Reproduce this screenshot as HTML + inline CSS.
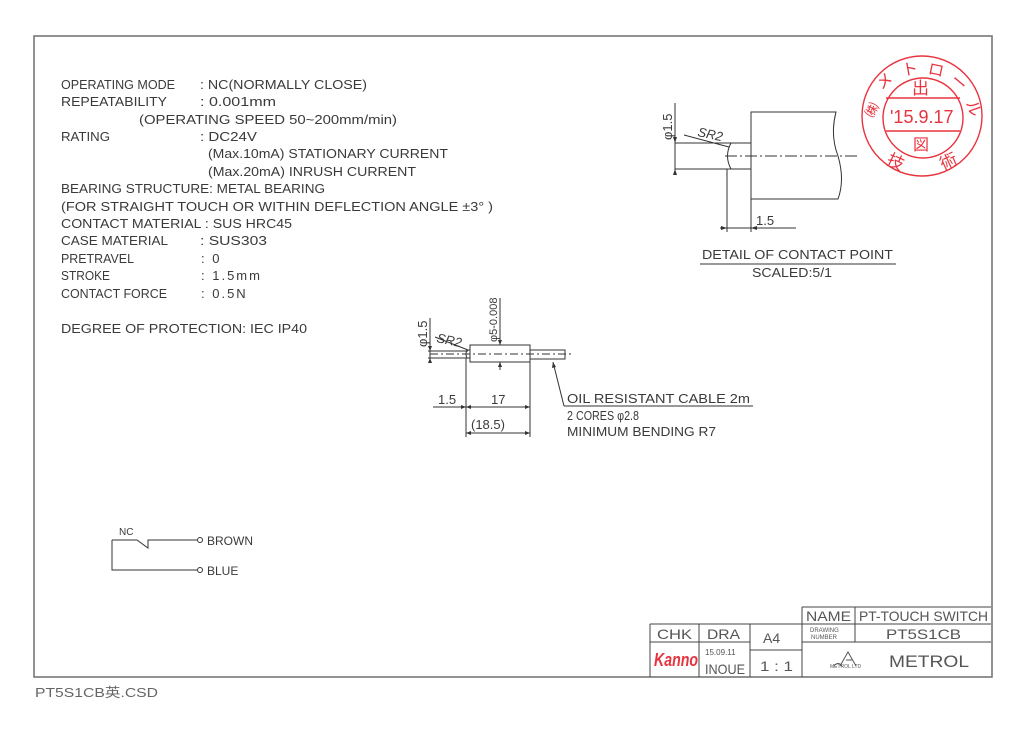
<!DOCTYPE html>
<html><head><meta charset="utf-8"><style>
html,body{margin:0;padding:0;background:#fff;}
svg{display:block;}
text{font-family:"Liberation Sans","Noto Sans CJK JP",sans-serif;fill:#3a3a3a;}
.r text{fill:#e8333f;}
</style></head><body>
<svg width="1024" height="730" viewBox="0 0 1024 730" xmlns="http://www.w3.org/2000/svg">
<rect x="34" y="36" width="958" height="641" fill="none" stroke="#777" stroke-width="1.6"/>

<g font-size="12.5">
<text x="61" y="89" textLength="114" lengthAdjust="spacingAndGlyphs">OPERATING MODE</text>
<text x="200" y="89" textLength="167" lengthAdjust="spacingAndGlyphs">: NC(NORMALLY CLOSE)</text>
<text x="61" y="106" textLength="106" lengthAdjust="spacingAndGlyphs">REPEATABILITY</text>
<text x="200" y="106" textLength="76" lengthAdjust="spacingAndGlyphs">: 0.001mm</text>
<text x="139" y="124" textLength="258" lengthAdjust="spacingAndGlyphs">(OPERATING SPEED  50~200mm/min)</text>
<text x="61" y="141" textLength="49" lengthAdjust="spacingAndGlyphs">RATING</text>
<text x="200" y="141" textLength="57" lengthAdjust="spacingAndGlyphs">: DC24V</text>
<text x="208" y="158" textLength="240" lengthAdjust="spacingAndGlyphs">(Max.10mA) STATIONARY CURRENT</text>
<text x="208" y="176" textLength="208" lengthAdjust="spacingAndGlyphs">(Max.20mA) INRUSH CURRENT</text>
<text x="61" y="193" textLength="264" lengthAdjust="spacingAndGlyphs">BEARING STRUCTURE: METAL BEARING</text>
<text x="61" y="211" textLength="432" lengthAdjust="spacingAndGlyphs"> (FOR STRAIGHT TOUCH OR WITHIN DEFLECTION ANGLE ±3° )</text>
<text x="61" y="228" textLength="231" lengthAdjust="spacingAndGlyphs">CONTACT MATERIAL : SUS HRC45</text>
<text x="61" y="245" textLength="107" lengthAdjust="spacingAndGlyphs">CASE MATERIAL</text>
<text x="200" y="245" textLength="67" lengthAdjust="spacingAndGlyphs">: SUS303</text>
<text x="61" y="263" textLength="73" lengthAdjust="spacingAndGlyphs">PRETRAVEL</text>
<text x="201" y="263" font-size="13" letter-spacing="2">: 0</text>
<text x="61" y="280" textLength="49" lengthAdjust="spacingAndGlyphs">STROKE</text>
<text x="201" y="280" font-size="13" letter-spacing="2">: 1.5mm</text>
<text x="61" y="298" textLength="106" lengthAdjust="spacingAndGlyphs">CONTACT FORCE</text>
<text x="201" y="298" font-size="13" letter-spacing="2">: 0.5N</text>
<text x="61" y="333" textLength="246" lengthAdjust="spacingAndGlyphs">DEGREE OF PROTECTION: IEC IP40</text>
</g>

<g stroke="#333" stroke-width="1" fill="none">
<path d="M751 112 H836 Q830 135 838 156 Q845 180 838 199 H751 Z"/>
<path d="M751 143 H731 Q724 156 731 169 H751"/>
<line x1="725" y1="156" x2="858" y2="156" stroke-dasharray="12,3,2,3"/>
<line x1="675" y1="143" x2="731" y2="143"/>
<line x1="675" y1="169" x2="731" y2="169"/>
<line x1="675" y1="103" x2="675" y2="172"/>
<line x1="684" y1="135" x2="729" y2="147"/>
<line x1="727" y1="169" x2="727" y2="232"/>
<line x1="751" y1="199" x2="751" y2="232"/>
<line x1="720" y1="228" x2="796" y2="228"/>
<line x1="700" y1="264" x2="896" y2="264"/>
</g>
<g fill="#333"><path d="M675 143 l-2 -6 h4z M675 169 l-2 6 h4z M727 228 l-6 -2 v4z M751 228 l6 -2 v4z"/></g>
<text x="672" y="140" font-size="13" transform="rotate(-90 672 140)">φ1.5</text>
<text x="697" y="136" font-size="13" font-style="italic" transform="rotate(12 697 136)">SR2</text>
<text x="756" y="225" font-size="13">1.5</text>
<text x="702" y="259" font-size="13" textLength="191" lengthAdjust="spacingAndGlyphs">DETAIL OF CONTACT POINT</text>
<text x="752" y="277" font-size="13" textLength="80" lengthAdjust="spacingAndGlyphs">SCALED:5/1</text>

<g stroke="#333" stroke-width="1" fill="none">
<rect x="470" y="345" width="60" height="17"/>
<rect x="530" y="350" width="35" height="9"/>
<path d="M470 350 H467 Q465 354 467 358 H470"/>
<line x1="430" y1="354" x2="572" y2="354" stroke-dasharray="8,3,2,3"/>
<line x1="428" y1="351" x2="468" y2="351"/>
<line x1="428" y1="358" x2="468" y2="358"/>
<line x1="430" y1="318" x2="430" y2="362"/>
<line x1="500" y1="298" x2="500" y2="345"/>
<line x1="500" y1="362" x2="500" y2="370"/>
<line x1="435" y1="337" x2="468" y2="350"/>
<line x1="466" y1="358" x2="466" y2="437"/>
<line x1="530" y1="362" x2="530" y2="437"/>
<line x1="433" y1="407" x2="530" y2="407"/>
<line x1="466" y1="433" x2="530" y2="433"/>
<line x1="553" y1="362" x2="564" y2="406"/>
<line x1="564" y1="406" x2="753" y2="406"/>
</g>
<g fill="#333"><path d="M430 351 l-2 -5 h4z M430 358 l-2 5 h4z M500 345 l-2 -5 h4z M500 362 l-2 5 h4z M466 407 l-5 -2 v4z M466 407 l5 -2 v4z M530 407 l-5 -2 v4z M466 433 l5 -2 v4z M530 433 l-5 -2 v4z M553 362 l-1 6 l4 -1z"/></g>
<text x="427" y="347" font-size="13" transform="rotate(-90 427 347)">φ1.5</text>
<text x="497" y="342" font-size="11" transform="rotate(-90 497 342)">φ5-0.008</text>
<text x="436" y="342" font-size="13" font-style="italic" transform="rotate(12 436 342)">SR2</text>
<text x="438" y="404" font-size="13">1.5</text>
<text x="491" y="404" font-size="13">17</text>
<text x="471" y="429" font-size="13">(18.5)</text>
<text x="567" y="403" font-size="13" textLength="183" lengthAdjust="spacingAndGlyphs">OIL RESISTANT CABLE 2m</text>
<text x="567" y="420" font-size="13" textLength="72" lengthAdjust="spacingAndGlyphs">2 CORES φ2.8</text>
<text x="567" y="436" font-size="13" textLength="149" lengthAdjust="spacingAndGlyphs">MINIMUM BENDING R7</text>

<g stroke="#333" stroke-width="1" fill="none">
<path d="M112 540 H137 L148 548 V540 H197"/>
<path d="M112 540 V570 H197"/>
<circle cx="200" cy="540" r="2.5"/>
<circle cx="200" cy="570" r="2.5"/>
</g>
<text x="119" y="535" font-size="10">NC</text>
<text x="207" y="545" font-size="12">BROWN</text>
<text x="207" y="575" font-size="12">BLUE</text>

<g class="r" stroke="#e8333f" stroke-width="1.4" fill="none">
<circle cx="922" cy="116" r="60"/>
<circle cx="923" cy="118" r="40"/>
<line x1="886" y1="98" x2="960" y2="98"/>
<line x1="886" y1="131" x2="960" y2="131"/>
</g>
<g class="r">
<text x="912" y="94" font-size="17">出</text>
<text x="890" y="123" font-size="18">'15.9.17</text>
<text x="913" y="150" font-size="16">図</text>
<text x="865" y="115" font-size="14" transform="rotate(-60 872 110)">㈱</text>
<text x="877" y="87" font-size="16" transform="rotate(-35 884 82)">メ</text>
<text x="902" y="75" font-size="16" transform="rotate(-10 908 70)">ト</text>
<text x="928" y="75" font-size="16" transform="rotate(12 934 70)">ロ</text>
<text x="951" y="87" font-size="16" transform="rotate(40 958 82)">ー</text>
<text x="965" y="112" font-size="16" transform="rotate(70 972 108)">ル</text>
<text x="887" y="167" font-size="17" transform="rotate(25 894 162)">技</text>
<text x="940" y="168" font-size="17" transform="rotate(-25 947 162)">術</text>
</g>

<g stroke="#444" stroke-width="1" fill="none">
<path d="M802 607 H991 M802 607 V677 M650 624 H991 M650 624 V677 M650 642 H750 M699 624 V677 M750 624 V677 M750 650 H802 M802 642 H991 M855 607 V642"/>
</g>
<g font-size="14">
<text x="806" y="621" textLength="45" lengthAdjust="spacingAndGlyphs" style="fill:#555">NAME</text>
<text x="859" y="621" textLength="129" lengthAdjust="spacingAndGlyphs" style="fill:#555">PT-TOUCH SWITCH</text>
<text x="657" y="639" textLength="35" lengthAdjust="spacingAndGlyphs" style="fill:#555">CHK</text>
<text x="707" y="639" textLength="33" lengthAdjust="spacingAndGlyphs" style="fill:#555">DRA</text>
<text x="763" y="643" style="fill:#555">A4</text>
<text x="886" y="639" textLength="75" lengthAdjust="spacingAndGlyphs" style="fill:#555">PT5S1CB</text>
<text x="705" y="674" textLength="40" lengthAdjust="spacingAndGlyphs" style="fill:#555">INOUE</text>
<text x="760" y="671" textLength="33" lengthAdjust="spacingAndGlyphs" style="fill:#555">1 : 1</text>
<text x="889" y="667" font-size="17" textLength="80" lengthAdjust="spacingAndGlyphs" style="fill:#555">METROL</text>
</g>
<text x="810" y="632" font-size="6" style="fill:#555">DRAWING</text>
<text x="811" y="639" font-size="6" style="fill:#555">NUMBER</text>
<text x="705" y="655" font-size="8" style="fill:#555">15.09.11</text>
<text x="654" y="666" font-size="18" font-weight="bold" textLength="44" lengthAdjust="spacingAndGlyphs" style="fill:#e8333f;font-style:italic">Kanno</text>
<g stroke="#555" fill="none" stroke-width="1">
<path d="M840 666 L848 652 L856 666 M846 660 h6 M834 666 q4 -5 8 0"/>
</g>
<text x="830" y="668" font-size="5" style="fill:#555">METROL LTD</text>

<text x="35" y="697" font-size="13" style="fill:#666" textLength="123" lengthAdjust="spacingAndGlyphs">PT5S1CB英.CSD</text>
</svg>
</body></html>
